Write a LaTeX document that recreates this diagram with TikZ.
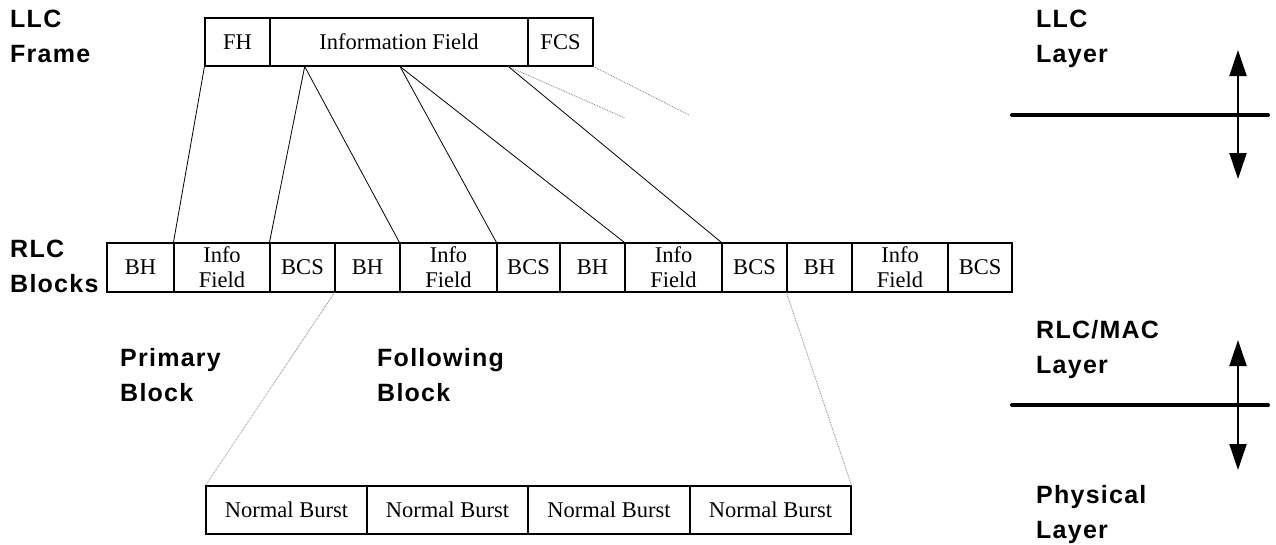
\documentclass[tikz,border=0pt]{standalone}
\usepackage{fontspec}
\setmainfont{Liberation Serif}
\newfontfamily\labfont[LetterSpace=5]{Liberation Sans}
\usetikzlibrary{calc,arrows.meta}
\begin{document}
\begin{tikzpicture}[x=1pt,y=-1pt,
  cell/.style={draw,line width=1.1pt,inner sep=0pt,minimum height=48pt,
    font=\fontsize{22.5}{25}\selectfont,align=center},
  lab/.style={anchor=north west,inner sep=0pt,align=left,
    font=\labfont\bfseries\fontsize{25}{35}\selectfont},
  conn/.style={line width=0.8pt},
  dotconn/.style={line width=0.8pt,gray,densely dotted},
  layerline/.style={line width=4pt,line cap=round},
  layerarrow/.style={line width=2pt,{Triangle[width=17pt,length=26pt]}-{Triangle[width=17pt,length=26pt]}}
]
\useasboundingbox (0,0) rectangle (1276,544);
% LLC frame
\node[cell,minimum width=65pt] (fh) at (237.5,42) {FH};
\node[cell,minimum width=258pt] (if) at (399,42) {Information Field};
\node[cell,minimum width=65pt] (fcs) at (560.5,42) {FCS};
% RLC blocks
\node[cell,minimum width=67pt,minimum height=49pt] (b1) at (140.5,267.5) {BH};
\node[cell,minimum width=96pt,minimum height=49pt] (b2) at (222,267.5) {Info\\Field};
\node[cell,minimum width=65pt,minimum height=49pt] (b3) at (302.5,267.5) {BCS};
\node[cell,minimum width=65pt,minimum height=49pt] (b4) at (367.5,267.5) {BH};
\node[cell,minimum width=97pt,minimum height=49pt] (b5) at (448.5,267.5) {Info\\Field};
\node[cell,minimum width=63pt,minimum height=49pt] (b6) at (528.5,267.5) {BCS};
\node[cell,minimum width=65pt,minimum height=49pt] (b7) at (592.5,267.5) {BH};
\node[cell,minimum width=97pt,minimum height=49pt] (b8) at (673.5,267.5) {Info\\Field};
\node[cell,minimum width=65pt,minimum height=49pt] (b9) at (754.5,267.5) {BCS};
\node[cell,minimum width=65pt,minimum height=49pt] (b10) at (819.5,267.5) {BH};
\node[cell,minimum width=96pt,minimum height=49pt] (b11) at (900,267.5) {Info\\Field};
\node[cell,minimum width=64pt,minimum height=49pt] (b12) at (980,267.5) {BCS};
% Normal bursts
\node[cell,minimum width=161pt] (n1) at (286.5,510) {Normal Burst};
\node[cell,minimum width=161pt] (n2) at (447.5,510) {Normal Burst};
\node[cell,minimum width=162pt] (n3) at (609,510) {Normal Burst};
\node[cell,minimum width=161pt] (n4) at (770.5,510) {Normal Burst};
% split points on Information Field
\coordinate (s1) at ($(if.south west)!0.136!(if.south east)$);
\coordinate (s2) at ($(if.south west)!0.504!(if.south east)$);
\coordinate (s3) at ($(if.south west)!0.922!(if.south east)$);
\coordinate (e1) at (625,118);
\coordinate (e2) at (689,115);
% connectors
\draw[conn] (fh.south west) -- (b2.north west);
\draw[conn] (s1) -- (b3.north west);
\draw[conn] (s1) -- (b5.north west);
\draw[conn] (s2) -- (b6.north west);
\draw[conn] (s2) -- (b8.north west);
\draw[conn] (s3) -- (b9.north west);
\draw[dotconn] (s3) -- (e1);
\draw[dotconn] (fcs.south east) -- (e2);
\draw[dotconn] (b4.south west) -- (n1.north west);
\draw[dotconn] (b10.south west) -- (n4.north east);
% labels
\node[lab] (llcf) at (10,10) {LLC\\Frame};
\node[lab] (rlcb) at (10,240) {RLC\\Blocks};
\node[lab] (prim) at (120,348) {Primary\\Block};
\node[lab] (foll) at (377,348) {Following\\Block};
\node[lab] (llcl) at (1036,10) {LLC\\Layer};
\node[lab] (macl) at (1036,320) {RLC/MAC\\Layer};
\node[lab] (phyl) at (1036,485) {Physical\\Layer};
% layer boundaries
\coordinate (l1a) at (1012,115);
\coordinate (l1b) at (1268,115);
\coordinate (a1t) at (1238,50);
\coordinate (a1b) at (1238,179);
\coordinate (l2a) at (1012,405);
\coordinate (l2b) at (1268,405);
\coordinate (a2t) at (1238,340);
\coordinate (a2b) at (1238,470);
\draw[layerline] (l1a) -- (l1b);
\draw[layerarrow] (a1t) -- (a1b);
\draw[layerline] (l2a) -- (l2b);
\draw[layerarrow] (a2t) -- (a2b);
\end{tikzpicture}
\end{document}
